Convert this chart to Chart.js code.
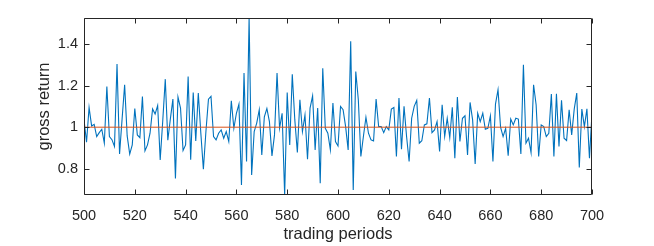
<!DOCTYPE html>
<html>
<head>
<meta charset="utf-8">
<script src="https://cdn.jsdelivr.net/npm/chart.js@4/dist/chart.umd.min.js"></script>
<style>
	html, body { margin: 0; padding: 0; background: #fff; }
	#wrap { width: 654px; height: 246px; }
</style>
</head>
<body>
<div id="wrap"><canvas id="returnsChart" width="654" height="246"></canvas></div>
<script>
// gross return per trading period, 500 .. 700
const firstPeriod = 500;
const grossReturn = [
	1.035, 0.928, 1.095, 1.006, 1.014, 0.955, 0.974, 0.990, 0.923, 1.196,
	0.955, 0.940, 0.907, 1.304, 0.871, 1.040, 1.204, 0.958, 0.871, 0.915,
	1.090, 0.963, 0.950, 1.148, 0.886, 0.915, 0.971, 1.088, 1.063, 1.104,
	0.843, 1.030, 1.231, 0.937, 1.040, 1.135, 0.754, 1.145, 1.092, 0.888,
	0.915, 1.244, 0.843, 1.167, 0.934, 1.164, 0.971, 0.798, 0.979, 1.135,
	1.148, 0.955, 0.939, 0.971, 0.987, 0.947, 0.979, 0.931, 1.127, 0.995,
	1.067, 1.111, 0.722, 1.260, 0.835, 1.525, 0.770, 0.979, 1.020, 1.084,
	0.867, 1.050, 1.090, 1.027, 0.862, 0.963, 1.260, 0.995, 1.067, 0.674,
	1.167, 0.915, 1.255, 1.035, 0.878, 1.132, 0.979, 1.059, 0.846, 1.092,
	1.151, 0.891, 1.092, 0.730, 1.283, 0.995, 0.971, 0.891, 1.116, 0.931,
	0.910, 1.100, 1.084, 1.003, 0.891, 1.413, 0.698, 1.268, 1.132, 0.859,
	0.955, 1.048, 0.971, 0.939, 0.934, 1.135, 1.003, 1.003, 0.974, 1.003,
	0.987, 1.087, 1.095, 0.859, 1.140, 0.894, 1.100, 0.955, 0.835, 1.043,
	1.100, 1.129, 0.923, 0.935, 1.011, 1.016, 1.140, 0.974, 0.987, 1.027,
	0.883, 1.108, 0.955, 1.043, 0.950, 1.096, 0.851, 1.145, 0.931, 1.043,
	1.055, 0.867, 1.119, 1.035, 0.823, 1.067, 1.027, 1.067, 0.990, 0.995,
	1.055, 0.835, 1.111, 1.180, 1.000, 0.955, 0.995, 0.863, 1.039, 1.011,
	1.043, 1.039, 0.871, 1.300, 0.923, 0.947, 0.878, 1.204, 1.108, 0.859,
	1.011, 1.003, 0.955, 0.971, 1.159, 0.859, 1.161, 0.907, 1.129, 0.947,
	0.936, 1.084, 0.963, 1.087, 1.164, 0.806, 1.087, 1.003, 1.088, 0.851,
	1.067
];
const periods = grossReturn.map((_, i) => firstPeriod + i);

// reference line at gross return 1
const refX = [500, 700];
const refY = [1, 1];

const xTicks = [500, 520, 540, 560, 580, 600, 620, 640, 660, 680, 700];
const yTicks = [0.8, 1, 1.2, 1.4];
const xRange = [500, 700];
const yRange = [0.674, 1.525];

const font = "'Liberation Sans', Arial, Helvetica, sans-serif";
const axisColor = '#262626';

// matlab style box with inward ticks on all sides
const axesBox = {
	id: 'axesBox',
	afterDatasetsDraw(chart) {
		const { ctx, chartArea: a, scales: { x, y } } = chart;
		const L = Math.round(a.left) + 0.5, R = Math.round(a.right) - 0.5;
		const T = Math.round(a.top) + 0.5, B = Math.round(a.bottom) - 0.5;
		const len = 5;
		ctx.save();
		ctx.strokeStyle = axisColor;
		ctx.lineWidth = 1;
		ctx.beginPath();
		xTicks.forEach(v => {
			const px = Math.round(x.getPixelForValue(v)) + 0.5;
			ctx.moveTo(px, B); ctx.lineTo(px, B - len);
			ctx.moveTo(px, T); ctx.lineTo(px, T + len);
		});
		yTicks.forEach(v => {
			const py = Math.round(y.getPixelForValue(v)) + 0.5;
			ctx.moveTo(L, py); ctx.lineTo(L + len, py);
			ctx.moveTo(R, py); ctx.lineTo(R - len, py);
		});
		ctx.rect(L, T, R - L, B - T);
		ctx.stroke();
		ctx.restore();
	}
};

new Chart(document.getElementById('returnsChart'), {
	type: 'line',
	data: {
		datasets: [
			{
				data: refX.map((v, i) => ({ x: v, y: refY[i] })),
				borderColor: '#D95319',
				borderWidth: 1,
				pointRadius: 0,
				tension: 0,
			},
			{
				data: periods.map((p, i) => ({ x: p, y: grossReturn[i] })),
				borderColor: '#0072BD',
				borderWidth: 1.1,
				pointRadius: 0,
				tension: 0,
			}
		]
	},
	options: {
		responsive: false,
		animation: false,
		devicePixelRatio: 1,
		layout: {
			padding: { left: 0, top: 18, right: 62, bottom: 0 }
		},
		scales: {
			x: {
				type: 'linear',
				min: xRange[0],
				max: xRange[1],
				afterFit: s => { s.height = 51; },
				afterBuildTicks: s => { s.ticks = xTicks.map(v => ({ value: v })); },
				grid: { display: false, drawTicks: false },
				border: { display: false },
				ticks: {
					padding: 12,
					color: axisColor,
					maxRotation: 0,
					autoSkip: false,
					font: { size: 14.5, family: font },
					callback: v => String(v),
				},
				title: {
					display: true,
					text: 'trading periods',
					color: axisColor,
					padding: { top: 0, bottom: 2 },
					font: { size: 16.5, family: font },
				}
			},
			y: {
				type: 'linear',
				min: yRange[0],
				max: yRange[1],
				afterFit: s => { s.width = 84; },
				afterBuildTicks: s => { s.ticks = yTicks.map(v => ({ value: v })); },
				grid: { display: false, drawTicks: false },
				border: { display: false },
				ticks: {
					padding: 6,
					color: axisColor,
					autoSkip: false,
					font: { size: 14.5, family: font },
					callback: v => String(Math.round(v * 10) / 10),
				},
				title: {
					display: true,
					text: 'gross return',
					color: axisColor,
					padding: { top: 35, bottom: 0 },
					font: { size: 16.5, family: font },
				}
			}
		},
		plugins: {
			legend: { display: false },
			tooltip: { enabled: false },
		}
	},
	plugins: [axesBox]
});
</script>
</body>
</html>
